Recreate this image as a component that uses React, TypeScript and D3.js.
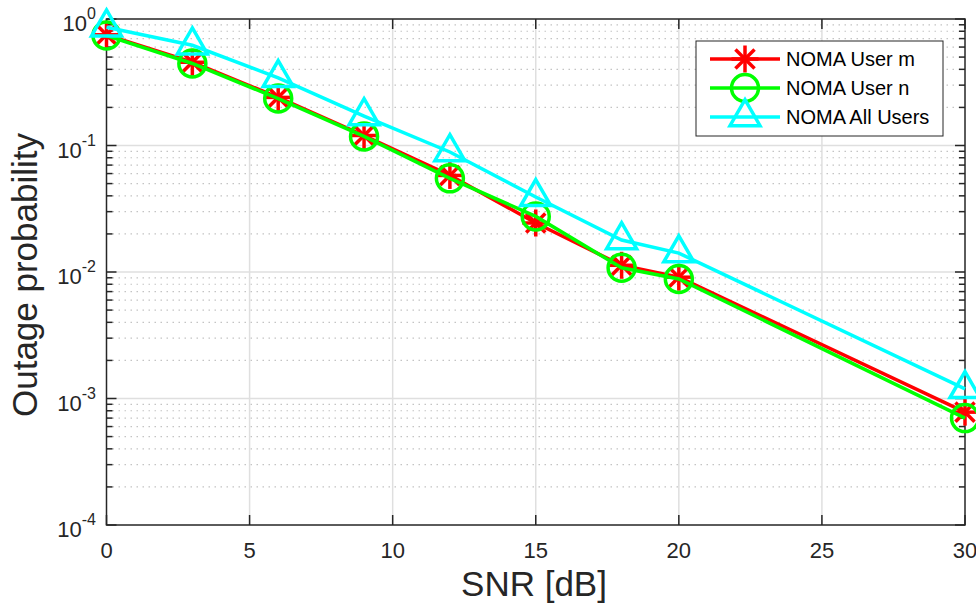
import React from "react";
import * as d3 from "d3";

const snr = [0, 3, 6, 9, 12, 15, 18, 20, 30];
const userM = [0.75, 0.455, 0.24, 0.12, 0.058, 0.0244, 0.0113, 0.0091, 0.00078];
const userN = [0.74, 0.445, 0.235, 0.118, 0.055, 0.0275, 0.0108, 0.0088, 0.0007];
const allUsers = [0.86, 0.62, 0.342, 0.171, 0.0889, 0.0392, 0.0179, 0.0141, 0.00119];
const xTicks = [0, 5, 10, 15, 20, 25, 30];
const yExps = [0, -1, -2, -3, -4];
const legendLabels = ["NOMA User m", "NOMA User n", "NOMA All Users"];

const W = 976, H = 607;
const L = 106.5, R = 965, T = 19, B = 525;
const AX = "#262626";
const FONT = "'Liberation Sans', Arial, Helvetica, sans-serif";

const x = d3.scaleLinear().domain([0, 30]).range([L, R]);
const y = d3.scaleLog().domain([1e-4, 1]).range([B, T]);

function Star({ cx, cy, r, color }: any) {
  const lines = [0, 45, 90, 135].map((a) => {
    const rad = (a * Math.PI) / 180;
    return (
      <line key={a} x1={cx - r * Math.cos(rad)} y1={cy - r * Math.sin(rad)} x2={cx + r * Math.cos(rad)} y2={cy + r * Math.sin(rad)} stroke={color} strokeWidth={3.5} />
    );
  });
  return <g>{lines}</g>;
}
function Circle({ cx, cy, color }: any) {
  return <circle cx={cx} cy={cy} r={13.5} fill="none" stroke={color} strokeWidth={3.5} />;
}
function Tri({ cx, cy, color }: any) {
  const h = 26, w = 30;
  const p = `${cx},${cy - (2 * h) / 3} ${cx + w / 2},${cy + h / 3} ${cx - w / 2},${cy + h / 3}`;
  return <polygon points={p} fill="none" stroke={color} strokeWidth={3.5} strokeLinejoin="miter" />;
}

const series = [
  { vals: userM, color: "#ff0000", M: Star },
  { vals: userN, color: "#00ff00", M: Circle },
  { vals: allUsers, color: "#00ffff", M: Tri },
];

export default function App() {
  const line = d3.line<number>().x((_, i) => x(snr[i])).y((d) => y(d));
  const minor: number[] = [];
  for (let e = -4; e < 0; e++) for (let k = 2; k <= 9; k++) minor.push(k * Math.pow(10, e));

  return (
    <svg width={W} height={H} style={{ position: "absolute", left: 0, top: 0, background: "#fff" }} fontFamily={FONT}>
      <rect x={0} y={0} width={W} height={H} fill="#fff" />
      {minor.map((v) => (
        <line key={"mg" + v} x1={L} x2={R} y1={y(v)} y2={y(v)} stroke="#c4c4c4" strokeWidth={1.2} strokeDasharray="1.5,4.5" />
      ))}
      {xTicks.slice(1, -1).map((t) => (
        <line key={"gx" + t} x1={x(t)} x2={x(t)} y1={T} y2={B} stroke="#dfdfdf" strokeWidth={1.5} />
      ))}
      {yExps.slice(1, -1).map((e) => (
        <line key={"gy" + e} x1={L} x2={R} y1={y(Math.pow(10, e))} y2={y(Math.pow(10, e))} stroke="#dfdfdf" strokeWidth={1.5} />
      ))}
      <rect x={L} y={T} width={R - L} height={B - T} fill="none" stroke={AX} strokeWidth={1.5} />
      {xTicks.map((t) => (
        <g key={"xt" + t}>
          <line x1={x(t)} x2={x(t)} y1={B} y2={B - 10} stroke={AX} strokeWidth={1.5} />
          <line x1={x(t)} x2={x(t)} y1={T} y2={T + 10} stroke={AX} strokeWidth={1.5} />
          <text x={x(t)} y={558} textAnchor="middle" fontSize={22} fill={AX}>{t}</text>
        </g>
      ))}
      {yExps.map((e) => {
        const yy = y(Math.pow(10, e));
        return (
          <g key={"yt" + e}>
            <line x1={L} x2={L + 10} y1={yy} y2={yy} stroke={AX} strokeWidth={1.5} />
            <line x1={R} x2={R - 10} y1={yy} y2={yy} stroke={AX} strokeWidth={1.5} />
            <text x={96} y={yy + 12} textAnchor="end" fontSize={22} fill={AX}>
              10<tspan dy={-12} fontSize={16}>{e}</tspan>
            </text>
          </g>
        );
      })}
      {minor.map((v) => (
        <g key={"ym" + v}>
          <line x1={L} x2={L + 6} y1={y(v)} y2={y(v)} stroke={AX} strokeWidth={1.5} />
          <line x1={R} x2={R - 6} y1={y(v)} y2={y(v)} stroke={AX} strokeWidth={1.5} />
        </g>
      ))}
      {series.map((s, si) => (
        <g key={"s" + si}>
          <path d={line(s.vals) || ""} fill="none" stroke={s.color} strokeWidth={3.5} />
          {s.vals.map((v, i) => (
            <s.M key={i} cx={x(snr[i])} cy={y(v)} r={13.5} color={s.color} />
          ))}
        </g>
      ))}
      <text x={534} y={596} textAnchor="middle" fontSize={35} fill={AX}>SNR [dB]</text>
      <text transform={`translate(37,275) rotate(-90)`} textAnchor="middle" fontSize={35} fill={AX}>Outage probability</text>
      <rect x={696} y={41} width={247} height={95} fill="#fff" stroke={AX} strokeWidth={1} />
      {series.map((s, i) => {
        const cy = 59 + i * 29;
        return (
          <g key={"lg" + i}>
            <line x1={710} x2={780} y1={cy} y2={cy} stroke={s.color} strokeWidth={3.5} />
            <s.M cx={745} cy={cy} r={13.5} color={s.color} />
            <text x={786} y={cy + 7} fontSize={20} fill="#000">{legendLabels[i]}</text>
          </g>
        );
      })}
    </svg>
  );
}
